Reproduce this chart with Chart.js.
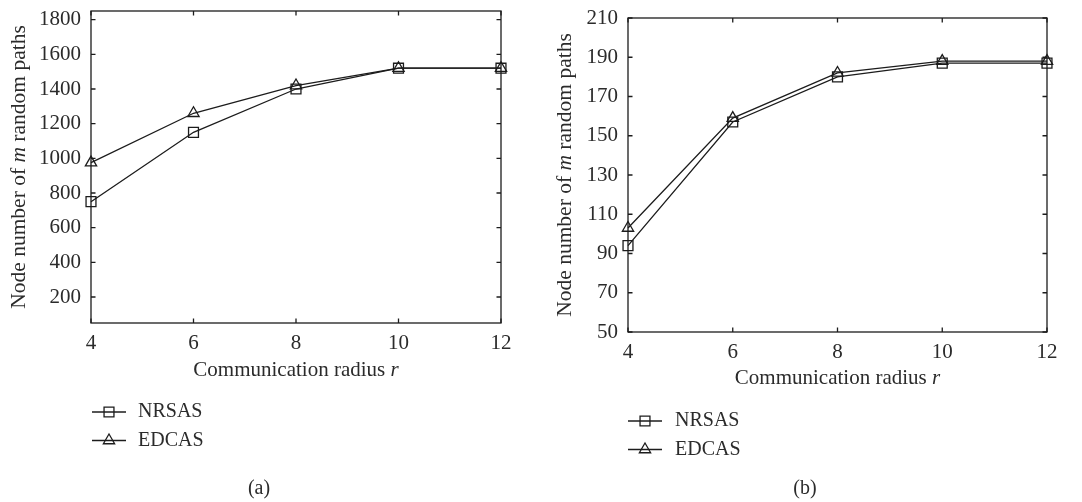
<!DOCTYPE html>
<html><head><meta charset="utf-8">
<script src="https://cdn.jsdelivr.net/npm/chart.js@4.4.1/dist/chart.umd.min.js"></script>
<style>
html,body{margin:0;padding:0;background:#fff;}
#wrap{position:relative;width:1082px;height:502px;background:#fff;}
.c{position:absolute;top:0;height:502px;}
</style></head><body>
<div id="wrap">
<div class="c" style="left:0;width:540px"><canvas id="ca"></canvas></div>
<div class="c" style="left:540px;width:542px"><canvas id="cb"></canvas></div>
</div>
<script>
// ---- data ----
const radius = [4, 6, 8, 10, 12];
const nrsasA = [750, 1150, 1400, 1520, 1520];
const edcasA = [975, 1260, 1420, 1520, 1520];
const nrsasB = [94, 157, 180, 187, 187];
const edcasB = [103, 159, 182, 188, 188];
const xTicks = [4, 6, 8, 10, 12];
const yTicksA = [200, 400, 600, 800, 1000, 1200, 1400, 1600, 1800];
const yTicksB = [50, 70, 90, 110, 130, 150, 170, 190, 210];
const seriesNames = ['NRSAS', 'EDCAS'];
const xTitleParts = [['Communication radius ', false], ['r', true]];
const yTitleParts = [['Node number of ', false], ['m', true], [' random paths', false]];
const captions = ['(a)', '(b)'];

const FONT = "'Liberation Serif', 'DejaVu Serif', serif";
const TXT = '#2b2b2b';
const INK = '#1c1c1c';

function drawParts(ctx, parts, cx, cy, size) {
  let total = 0;
  const widths = parts.map(([t, it]) => {
    ctx.font = (it ? 'italic ' : '') + size + 'px ' + FONT;
    const w = ctx.measureText(t).width; total += w; return w;
  });
  let x = cx - total / 2;
  ctx.textAlign = 'left'; ctx.textBaseline = 'middle';
  parts.forEach(([t, it], i) => {
    ctx.font = (it ? 'italic ' : '') + size + 'px ' + FONT;
    ctx.fillText(t, x, cy); x += widths[i];
  });
}

function makeChart(id, nr, ed, ymin, ymax, yticks, g) {
  const framePlugin = {
    id: 'frame',
    afterDatasetsDraw(chart) {
      const { ctx, chartArea: a, scales } = chart;
      ctx.save();
      ctx.strokeStyle = INK; ctx.lineWidth = 1.3;
      ctx.strokeRect(a.left, a.top, a.right - a.left, a.bottom - a.top);
      const tl = 4.5;
      ctx.beginPath();
      xTicks.forEach(v => {
        const px = scales.x.getPixelForValue(v);
        ctx.moveTo(px, a.bottom); ctx.lineTo(px, a.bottom - tl);
        ctx.moveTo(px, a.top); ctx.lineTo(px, a.top + tl);
      });
      yticks.forEach(v => {
        const py = scales.y.getPixelForValue(v);
        ctx.moveTo(a.left, py); ctx.lineTo(a.left + tl, py);
        ctx.moveTo(a.right, py); ctx.lineTo(a.right - tl, py);
      });
      ctx.stroke();
      ctx.restore();
    },
    afterDraw(chart) {
      const { ctx, chartArea: a } = chart;
      ctx.save();
      ctx.fillStyle = TXT;
      drawParts(ctx, xTitleParts, (a.left + a.right) / 2, a.bottom + g.xTitleOff, 21);
      ctx.save();
      ctx.translate(g.yTitleX, (a.top + a.bottom) / 2);
      ctx.rotate(-Math.PI / 2);
      drawParts(ctx, yTitleParts, 0, 0, 21.5);
      ctx.restore();
      chart.data.datasets.forEach((ds, i) => {
        const y = g.legY + i * g.legGap;
        ctx.strokeStyle = INK; ctx.lineWidth = 1.3;
        ctx.beginPath(); ctx.moveTo(g.legX, y); ctx.lineTo(g.legX + 34, y); ctx.stroke();
        ctx.fillStyle = 'rgba(0,0,0,0)';
        Chart.helpers.drawPoint(ctx, { pointStyle: ds.pointStyle, radius: ds.pointRadius, borderWidth: 1.3 }, g.legX + 17, y);
        ctx.fillStyle = TXT;
        ctx.font = '20px ' + FONT; ctx.textAlign = 'left'; ctx.textBaseline = 'middle';
        ctx.fillText(ds.label, g.legTextX, y);
      });
      ctx.fillStyle = TXT;
      ctx.font = '20px ' + FONT; ctx.textAlign = 'center'; ctx.textBaseline = 'middle';
      ctx.fillText(g.caption, g.capX, g.capY);
      ctx.restore();
    }
  };
  const mk = (label, data, style, r) => ({
    label, data: radius.map((x, i) => ({ x, y: data[i] })),
    borderColor: INK, borderWidth: 1.3, pointStyle: style, pointRadius: r,
    pointBorderColor: INK, pointBorderWidth: 1.3, pointBackgroundColor: 'rgba(0,0,0,0)',
    pointHoverRadius: r, tension: 0, fill: false, clip: false
  });
  return new Chart(document.getElementById(id), {
    type: 'line',
    data: { datasets: [mk(seriesNames[0], nr, 'rect', 7), mk(seriesNames[1], ed, 'triangle', 6.5)] },
    options: {
      responsive: true, maintainAspectRatio: false, animation: false,
      layout: { padding: { left: 0, top: g.top, right: g.W - g.right, bottom: 0 } },
      plugins: { legend: { display: false }, tooltip: { enabled: false } },
      scales: {
        x: {
          type: 'linear', min: 4, max: 12,
          afterBuildTicks: s => { s.ticks = xTicks.map(v => ({ value: v })); },
          afterFit: s => { s.height = g.H - g.bottom; s.paddingLeft = 0; s.paddingRight = 0; },
          grid: { display: false, drawTicks: false }, border: { display: false },
          ticks: { padding: 8, color: TXT, font: { family: FONT, size: 21 }, maxRotation: 0, autoSkip: false,
                   callback: v => String(v) }
        },
        y: {
          type: 'linear', min: ymin, max: ymax,
          afterBuildTicks: s => { s.ticks = yticks.map(v => ({ value: v })); },
          afterFit: s => { s.width = g.left; s.paddingTop = 0; s.paddingBottom = 0; },
          grid: { display: false, drawTicks: false }, border: { display: false },
          ticks: { padding: 10, color: TXT, font: { family: FONT, size: 21 }, autoSkip: false,
                   callback: v => String(v) }
        }
      }
    },
    plugins: [framePlugin]
  });
}

makeChart('ca', nrsasA, edcasA, 50, 1850, yTicksA, {
  W: 540, H: 502, left: 91, right: 501, top: 11, bottom: 323,
  xTitleOff: 47, yTitleX: 19, legX: 92, legY: 412, legGap: 28.5, legTextX: 138,
  caption: captions[0], capX: 259, capY: 489
});
makeChart('cb', nrsasB, edcasB, 50, 210, yTicksB, {
  W: 542, H: 502, left: 88, right: 507, top: 18, bottom: 332,
  xTitleOff: 46, yTitleX: 25, legX: 88, legY: 421, legGap: 28.5, legTextX: 135,
  caption: captions[1], capX: 265, capY: 489
});
</script>
</body></html>
